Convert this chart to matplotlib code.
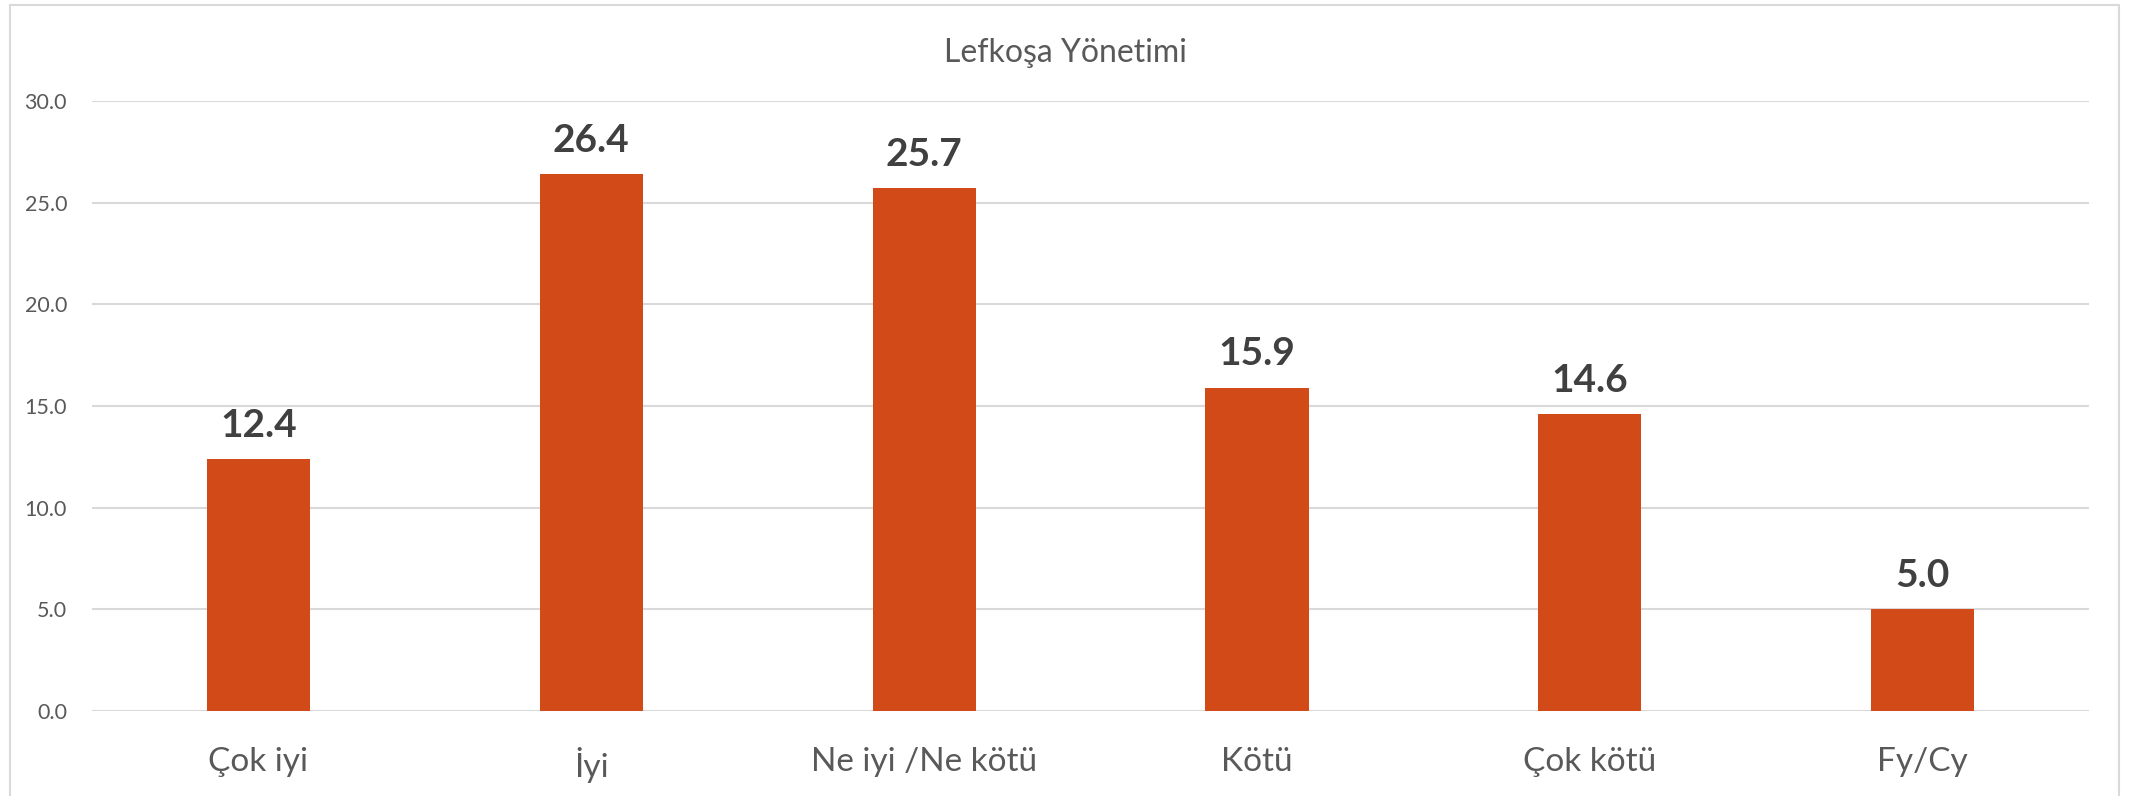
import matplotlib as mpl
mpl.use('Agg')
from matplotlib import pyplot as plt
from matplotlib.patches import Rectangle

categories = ['Çok iyi', 'İyi', 'Ne iyi /Ne kötü', 'Kötü', 'Çok kötü', 'Fy/Cy']
values = [12.4, 26.4, 25.7, 15.9, 14.6, 5.0]
yticks = [0, 5, 10, 15, 20, 25, 30]

plt.rcParams['font.family'] = ['Lato', 'DejaVu Sans']

fig = plt.figure(figsize=(21.31, 7.96), dpi=100)
ax = fig.add_axes([0.0432, 0.1068, 0.9371, 0.7663])

x = range(len(categories))
ax.bar(x, values, width=0.31, color='#D24A17', zorder=3)
for xi, v in zip(x, values):
    ax.annotate('%.1f' % v, (xi, v), xytext=(0, 16), textcoords='offset points',
                ha='center', va='baseline', fontsize=28, fontweight='bold',
                color='#404040')

ax.set_xlim(-0.5, len(categories) - 0.5)
ax.set_ylim(0, 30)
ax.set_yticks(yticks)
ax.set_yticklabels(['%.1f' % t for t in yticks])
ax.set_xticks(list(x))
ax.set_xticklabels(categories)
ax.tick_params(axis='y', length=0, pad=18, labelsize=15.5, labelcolor='#595959')
ax.tick_params(axis='x', length=0, pad=26, labelsize=24, labelcolor='#595959')
ax.grid(axis='y', color='#d9d9d9', linewidth=1.5, zorder=0)
for s in ax.spines.values():
    s.set_visible(False)

fig.text(0.5, 0.934, 'Lefkoşa Yönetimi', ha='center', va='center',
         fontsize=23, color='#595959')

# chart border
fig.patches.append(Rectangle((10 / 2131, -0.05), 2109 / 2131, 1.05 - 5 / 796,
                             transform=fig.transFigure, fill=False,
                             edgecolor='#d9d9d9', linewidth=1.5))

plt.savefig('out.png')
